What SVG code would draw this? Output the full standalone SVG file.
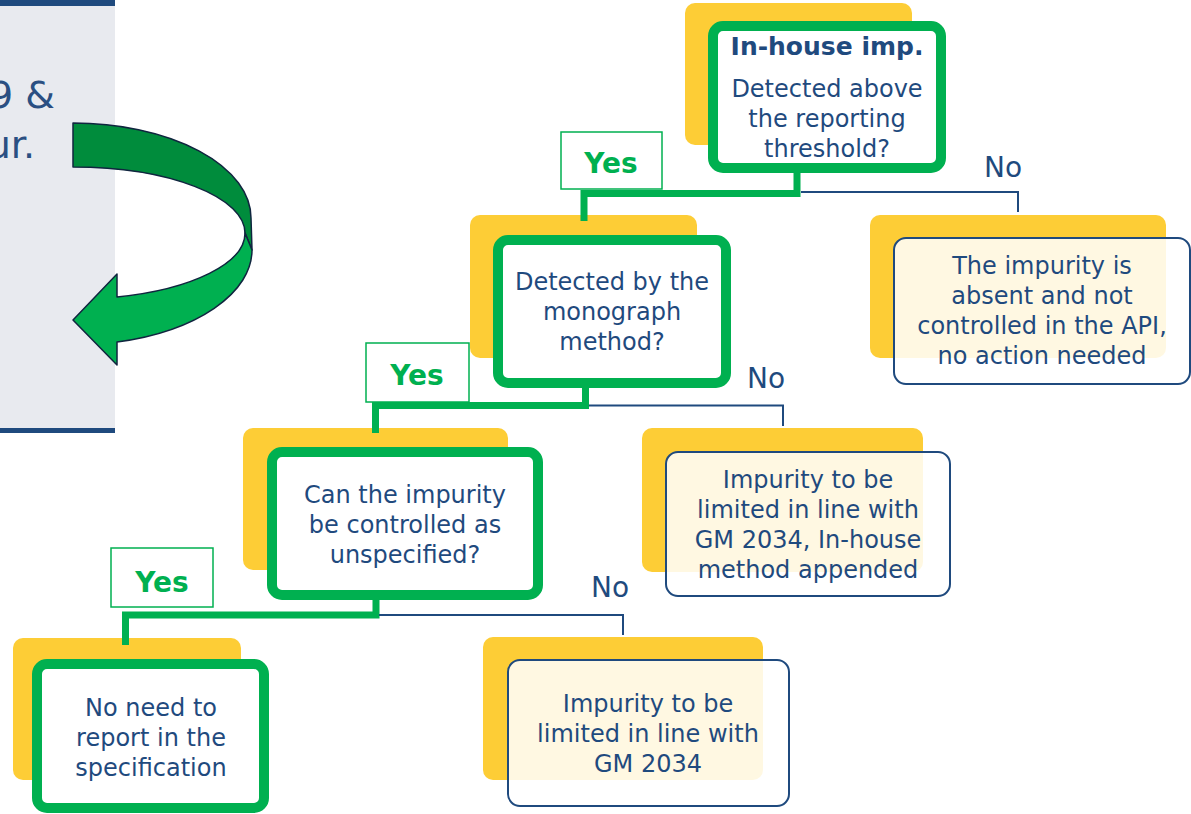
<svg xmlns="http://www.w3.org/2000/svg" width="1191" height="814" viewBox="0 0 1191 814">
<style>
.yel{fill:#fdcd36}
.gbox{fill:#ffffff;stroke:#00b050;stroke-width:10}
.nbox{fill:#ffffff;fill-opacity:0.86;stroke:#1f4a7e;stroke-width:2}
.t{font-family:"DejaVu Sans",Verdana,sans-serif;font-size:24px;fill:#1f4a7e;text-anchor:middle}
.tb{font-family:"DejaVu Sans",Verdana,sans-serif;font-size:25px;font-weight:bold;fill:#1f4a7e;text-anchor:middle}
.yesbox{fill:#ffffff;stroke:#00b050;stroke-width:1.5}
.yes{font-family:"DejaVu Sans",Verdana,sans-serif;font-size:28px;font-weight:bold;fill:#00b050;text-anchor:middle}
.no{font-family:"DejaVu Sans",Verdana,sans-serif;font-size:28px;fill:#1f4a7e;text-anchor:middle}
.gl{fill:none;stroke:#00b050;stroke-width:7;stroke-linejoin:miter}
.nl{fill:none;stroke:#1f4a7e;stroke-width:2}
</style>

<g id="side-panel">
<rect x="0" y="6" width="115" height="423" fill="#e8eaef"/>
<rect x="0" y="0" width="115" height="6" fill="#1f4a7e"/>
<rect x="0" y="428" width="115" height="5" fill="#1f4a7e"/>
<text x="55" y="108" font-family="DejaVu Sans,Verdana,sans-serif" font-size="38" fill="#2a4f82" text-anchor="end">9 &amp;</text>
<text x="35" y="158" font-family="DejaVu Sans,Verdana,sans-serif" font-size="38" fill="#2a4f82" text-anchor="end">ur.</text>
</g>

<g id="curved-arrow" stroke="#10253f" stroke-width="1.5" stroke-linejoin="round">
<path d="M73,123 A178,95 0 0 1 251,218 L252,250 L245,233 A172,66 0 0 0 73,167 Z" fill="#008c3c"/>
<path d="M245,233 A172,66 0 0 1 117,297 L117,274 L73,320 L117,365 L117,342 A179,95 0 0 0 252,250 Z" fill="#00b050"/>
</g>

<g id="node-inhouse">
<rect class="yel" x="685" y="3" width="227" height="142" rx="10"/>
<rect class="gbox" x="713" y="26" width="228" height="142" rx="10"/>
<text class="tb" x="827" y="55">In-house imp.</text>
<text class="t" x="827" y="97">Detected above</text>
<text class="t" x="827" y="127">the reporting</text>
<text class="t" x="827" y="157">threshold?</text>
</g>

<g id="node-monograph">
<rect class="yel" x="470" y="215" width="227" height="143" rx="10"/>
<rect class="gbox" x="498" y="240" width="228" height="143" rx="10"/>
<text class="t" x="612" y="290">Detected by the</text>
<text class="t" x="612" y="320">monograph</text>
<text class="t" x="612" y="350">method?</text>
</g>

<g id="node-unspecified">
<rect class="yel" x="243" y="428" width="265" height="142" rx="10"/>
<rect class="gbox" x="272" y="452" width="266" height="143" rx="10"/>
<text class="t" x="405" y="503">Can the impurity</text>
<text class="t" x="405" y="533">be controlled as</text>
<text class="t" x="405" y="563">unspecified?</text>
</g>

<g id="node-noreport">
<rect class="yel" x="13" y="638" width="228" height="142" rx="10"/>
<rect class="gbox" x="37" y="664" width="227" height="144" rx="10"/>
<text class="t" x="151" y="716">No need to</text>
<text class="t" x="151" y="746">report in the</text>
<text class="t" x="151" y="776">specification</text>
</g>

<g id="node-absent">
<rect class="yel" x="870" y="215" width="296" height="143" rx="10"/>
<rect class="nbox" x="894" y="238" width="296" height="146" rx="12"/>
<text class="t" x="1042" y="274">The impurity is</text>
<text class="t" x="1042" y="304">absent and not</text>
<text class="t" x="1042" y="334">controlled in the API,</text>
<text class="t" x="1042" y="364">no action needed</text>
</g>

<g id="node-inhouse-method">
<rect class="yel" x="642" y="428" width="281" height="144" rx="10"/>
<rect class="nbox" x="666" y="452" width="284" height="144" rx="12"/>
<text class="t" x="808" y="488">Impurity to be</text>
<text class="t" x="808" y="518">limited in line with</text>
<text class="t" x="808" y="548">GM 2034, In-house</text>
<text class="t" x="808" y="578">method appended</text>
</g>

<g id="node-gm2034">
<rect class="yel" x="483" y="637" width="280" height="143" rx="10"/>
<rect class="nbox" x="508" y="660" width="281" height="146" rx="12"/>
<text class="t" x="648" y="712">Impurity to be</text>
<text class="t" x="648" y="742">limited in line with</text>
<text class="t" x="648" y="772">GM 2034</text>
</g>

<g id="connectors">
<path class="gl" d="M797,173 V193.5 H584 V221"/>
<path class="nl" d="M801,192 H1018 V212"/>
<path class="gl" d="M585.5,388 V405.5 H375.5 V433"/>
<path class="nl" d="M589,405.5 H783 V426"/>
<path class="gl" d="M376,600 V615 H125.5 V645"/>
<path class="nl" d="M379,615 H623 V635"/>
<rect class="yesbox" x="561" y="132" width="101" height="57"/>
<text class="yes" x="611" y="173">Yes</text>
<rect class="yesbox" x="366" y="343" width="103" height="59"/>
<text class="yes" x="417" y="385">Yes</text>
<rect class="yesbox" x="111" y="548" width="102" height="59"/>
<text class="yes" x="162" y="592">Yes</text>
<text class="no" x="1003" y="177">No</text>
<text class="no" x="766" y="388">No</text>
<text class="no" x="610" y="597">No</text>
</g>
</svg>
